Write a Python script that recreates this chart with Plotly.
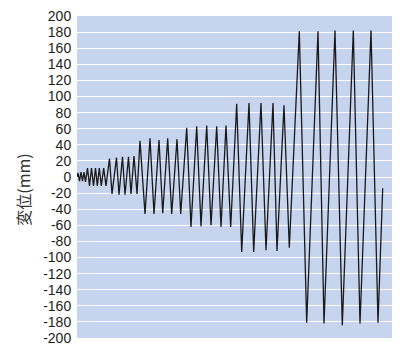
import plotly.graph_objects as go

# time position of each turning point (relative units)
time_step = [0, 1, 2.5, 4, 5.5, 7, 8.5,
             10.5, 12.5, 14.5, 16.5, 18.5, 20.3, 22.3, 24.3, 26.7, 29,
             32.5, 35, 39.5, 42, 45.5, 48, 51.5, 54, 57, 60,
             63, 68, 73, 77, 82, 85.7, 90.7, 94.7, 100, 103.7,
             109.7, 114, 119.7, 124, 129.7, 134, 139.7, 144, 149, 153.7,
             159.7, 164.7, 172, 176.7, 184, 189, 196, 200, 207, 212.3,
             222.3, 229.7, 241, 247, 258, 265.3, 276.3, 283, 294, 301, 305.7]

displacement = [0, 5, -5, 6, -5, 6, -6,
                11, -11, 11, -11, 11, -11, 11, -11, 11, -11,
                23, -21, 24, -22, 25, -22, 25, -21, 26, -21,
                45, -46, 48, -46, 46, -45, 48, -46, 47, -46,
                61, -62, 63, -61, 64, -60, 63, -62, 64, -62,
                91, -93, 92, -93, 92, -91, 92, -92, 89, -88,
                181, -181, 181, -182, 182, -184, 182, -182, 182, -181, -14]

y_ticks = list(range(-200, 201, 20))
y_title = "変位(mm)"

fig = go.Figure()
fig.add_trace(go.Scatter(x=time_step, y=displacement, mode="lines",
                         line=dict(color="#1a1a1a", width=1.3),
                         hoverinfo="skip", showlegend=False))

fig.update_layout(
    width=392, height=337,
    margin=dict(l=69, r=8, t=8, b=7, autoexpand=False),
    paper_bgcolor="white",
    plot_bgcolor="#c6d4ee",
    font=dict(family="Liberation Sans, Arial, sans-serif", size=14, color="#222"),
    xaxis=dict(range=[0, 315], showgrid=False, zeroline=False,
               showticklabels=False, ticks="", automargin=False),
    yaxis=dict(range=[-200, 200], tickvals=y_ticks,
               ticktext=[str(v) for v in y_ticks],
               showgrid=True, gridcolor="white", gridwidth=1,
               zeroline=False, ticks="outside", ticklen=2,
               tickcolor="rgba(0,0,0,0)", ticklabeloverflow="allow",
               automargin=False),
    annotations=[dict(text=y_title, textangle=-90, xref="paper", yref="paper",
                      x=-0.172, y=0.46, xanchor="center", yanchor="middle",
                      showarrow=False,
                      font=dict(family="Noto Sans CJK JP, sans-serif", size=16, color="#333"))],
)

fig.write_html("out.html")
